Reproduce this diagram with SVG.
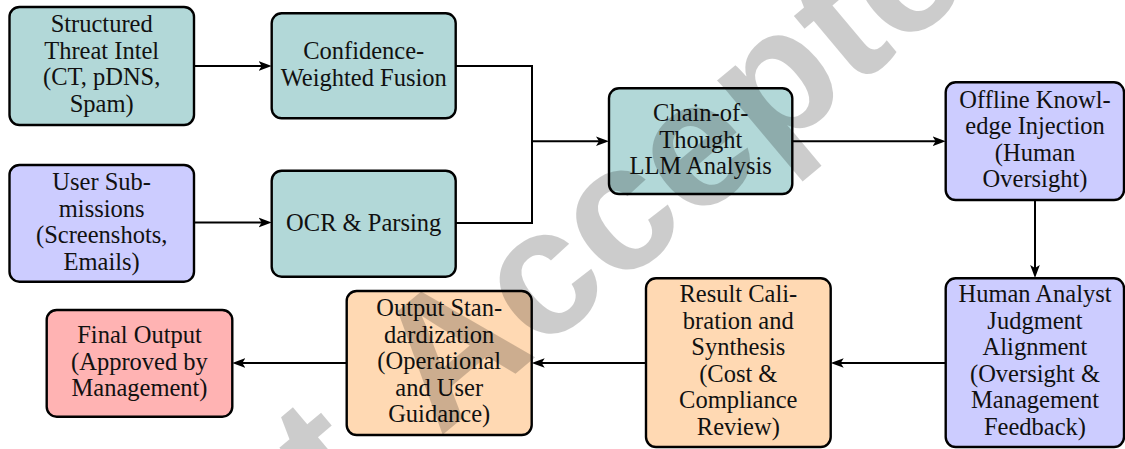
<svg xmlns="http://www.w3.org/2000/svg" width="1125" height="449" viewBox="0 0 1125 449">
<defs>
<style>
.box{stroke:#000;stroke-width:2.4}
.teal{fill:#b2d8d8}
.blue{fill:#ccccff}
.orange{fill:#ffd9b3}
.red{fill:#ffb3b3}
.lbl{font-size:24.5px;fill:#111;text-anchor:middle}
.edge{fill:none;stroke:#000;stroke-width:2}
.wm{font-weight:bold;font-size:180px;fill:#000;fill-opacity:0.2}
</style>
<marker id="arr" markerUnits="userSpaceOnUse" markerWidth="20" markerHeight="12" viewBox="0 -6 20 12" refX="7" refY="0" orient="auto">
<path d="M13,0 L0,-4.8 L3,0 L0,4.8 Z" fill="#000"/>
</marker>
</defs>
<rect width="1125" height="449" fill="#fff"/>
<g id="connectors">
<line class="edge" x1="194" y1="66" x2="265.7" y2="66" marker-end="url(#arr)"/>
<line class="edge" x1="194" y1="222.5" x2="265.7" y2="222.5" marker-end="url(#arr)"/>
<path class="edge" d="M455.7,66 H532 V223 H455.7"/>
<line class="edge" x1="532" y1="141.2" x2="603" y2="141.2" marker-end="url(#arr)"/>
<line class="edge" x1="792.3" y1="141.2" x2="939.7" y2="141.2" marker-end="url(#arr)"/>
<line class="edge" x1="1035" y1="200" x2="1035" y2="272" marker-end="url(#arr)"/>
<line class="edge" x1="945.7" y1="363" x2="836.7" y2="363" marker-end="url(#arr)"/>
<line class="edge" x1="646" y1="363" x2="537.7" y2="363" marker-end="url(#arr)"/>
<line class="edge" x1="346.7" y1="363" x2="238.3" y2="363" marker-end="url(#arr)"/>
</g>
<g font-family="'Liberation Serif', 'Times New Roman', serif">
<g id="structured-threat-intel">
<rect class="box teal" x="9.5" y="7" width="184.5" height="118" rx="10"/>
<text class="lbl" x="101.7" y="32.3">Structured</text>
<text class="lbl" x="101.7" y="58.8">Threat Intel</text>
<text class="lbl" x="101.7" y="85.3">(CT, pDNS,</text>
<text class="lbl" x="101.7" y="111.8">Spam)</text>
</g>
<g id="confidence-weighted-fusion">
<rect class="box teal" x="271.7" y="13.3" width="184" height="105" rx="10"/>
<text class="lbl" x="363.7" y="59">Confidence-</text>
<text class="lbl" x="363.7" y="85.5">Weighted Fusion</text>
</g>
<g id="user-submissions">
<rect class="box blue" x="9.5" y="165" width="184.5" height="116.7" rx="10"/>
<text class="lbl" x="101.7" y="190">User Sub-</text>
<text class="lbl" x="101.7" y="216.5">missions</text>
<text class="lbl" x="101.7" y="243">(Screenshots,</text>
<text class="lbl" x="101.7" y="269.5">Emails)</text>
</g>
<g id="ocr-parsing">
<rect class="box teal" x="271.7" y="170.7" width="184" height="106" rx="10"/>
<text class="lbl" x="363.7" y="230.5">OCR &amp; Parsing</text>
</g>
<g id="chain-of-thought">
<rect class="box teal" x="609" y="88.3" width="183.3" height="105.7" rx="10"/>
<text class="lbl" x="700.7" y="121.2">Chain-of-</text>
<text class="lbl" x="700.7" y="147.7">Thought</text>
<text class="lbl" x="700.7" y="174.2">LLM Analysis</text>
</g>
<g id="offline-knowledge-injection">
<rect class="box blue" x="945.7" y="82.3" width="178.3" height="117.7" rx="10"/>
<text class="lbl" x="1035" y="107.5">Offline Knowl-</text>
<text class="lbl" x="1035" y="134">edge Injection</text>
<text class="lbl" x="1035" y="160.5">(Human</text>
<text class="lbl" x="1035" y="187">Oversight)</text>
</g>
<g id="human-analyst-judgment">
<rect class="box blue" x="945.7" y="278.3" width="178.3" height="168.7" rx="10"/>
<text class="lbl" x="1035" y="302">Human Analyst</text>
<text class="lbl" x="1035" y="328.5">Judgment</text>
<text class="lbl" x="1035" y="355">Alignment</text>
<text class="lbl" x="1035" y="381.5">(Oversight &amp;</text>
<text class="lbl" x="1035" y="408">Management</text>
<text class="lbl" x="1035" y="434.5">Feedback)</text>
</g>
<g id="result-calibration">
<rect class="box orange" x="646" y="278.3" width="184.7" height="168.7" rx="10"/>
<text class="lbl" x="738.3" y="302">Result Cali-</text>
<text class="lbl" x="738.3" y="328.5">bration and</text>
<text class="lbl" x="738.3" y="355">Synthesis</text>
<text class="lbl" x="738.3" y="381.5">(Cost &amp;</text>
<text class="lbl" x="738.3" y="408">Compliance</text>
<text class="lbl" x="738.3" y="434.5">Review)</text>
</g>
<g id="output-standardization">
<rect class="box orange" x="346.7" y="291" width="185" height="144" rx="10"/>
<text class="lbl" x="439.2" y="316">Output Stan-</text>
<text class="lbl" x="439.2" y="342.5">dardization</text>
<text class="lbl" x="439.2" y="369">(Operational</text>
<text class="lbl" x="439.2" y="395.5">and User</text>
<text class="lbl" x="439.2" y="422">Guidance)</text>
</g>
<g id="final-output">
<rect class="box red" x="46.7" y="310" width="185.6" height="106.7" rx="10"/>
<text class="lbl" x="139.5" y="343">Final Output</text>
<text class="lbl" x="139.5" y="369.5">(Approved by</text>
<text class="lbl" x="139.5" y="396">Management)</text>
</g>
</g>
<text class="wm" font-family="'Liberation Sans', Arial, sans-serif" x="-458" y="0" transform="translate(452,427) rotate(-40)">Just<tspan dx="28"> Accepted</tspan></text>
</svg>
